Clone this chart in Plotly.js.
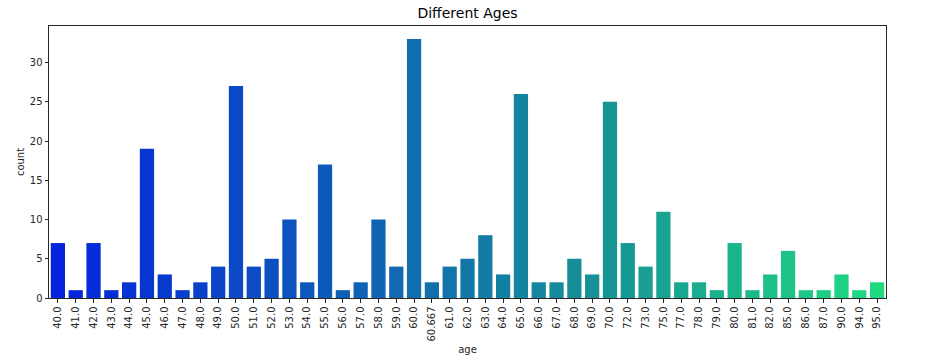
<!DOCTYPE html>
<html>
<head>
<meta charset="utf-8">
<script src="https://cdn.plot.ly/plotly-3.0.1.min.js"></script>
<style>html,body{margin:0;padding:0;background:#fff;}#chart{width:931px;height:364px;}</style>
</head>
<body>
<div id="chart"></div>
<script>
const ageLabels = ["40.0","41.0","42.0","43.0","44.0","45.0","46.0","47.0","48.0","49.0",
  "50.0","51.0","52.0","53.0","54.0","55.0","56.0","57.0","58.0","59.0",
  "60.0","60.667","61.0","62.0","63.0","64.0","65.0","66.0","67.0","68.0","69.0",
  "70.0","72.0","73.0","75.0","77.0","78.0","79.0","80.0","81.0","82.0",
  "85.0","86.0","87.0","90.0","94.0","95.0"];
const counts = [7,1,7,1,2,19,3,1,2,4,
  27,4,5,10,2,17,1,2,10,4,
  33,2,4,5,8,3,26,2,2,5,3,
  25,7,4,11,2,2,1,7,1,3,
  6,1,1,3,1,2];
const yTicks = [0,5,10,15,20,25,30];

// "winter"-style palette, muted
function hue2rgb(p,q,t){ if(t<0)t+=1; if(t>1)t-=1; if(t<1/6)return p+(q-p)*6*t; if(t<1/2)return q; if(t<2/3)return p+(q-p)*(2/3-t)*6; return p; }
function winterColor(x){
  let r=0, g=x, b=1-0.5*x;
  const mx=Math.max(r,g,b), mn=Math.min(r,g,b);
  const l=(mx+mn)/2; let s, h;
  const d=mx-mn;
  s = l<=0.5 ? d/(mx+mn) : d/(2-mx-mn);
  if(mx===g) h=((b-r)/d+2)/6; else h=((r-g)/d+4)/6;
  s*=0.75;
  const q = l<0.5 ? l*(1+s) : l+s-l*s;
  const p = 2*l-q;
  const G=hue2rgb(p,q,h), B=hue2rgb(p,q,h-1/3);
  const R = 4 + 28*x;
  return 'rgb('+Math.round(R)+','+Math.round(G*255)+','+Math.round(B*255)+')';
}
const n = ageLabels.length;
const colors = ageLabels.map((_,i)=>winterColor((i+1)/(n+1)));

const font = {family:'DejaVu Sans, sans-serif', size:10, color:'#262626'};
const trace = {type:'bar', x:ageLabels, y:counts, marker:{color:colors, line:{width:0}}, hoverinfo:'x+y'};
const layout = {
  width:931, height:364,
  margin:{l:49, r:45, t:26, b:66, pad:0},
  paper_bgcolor:'#fff', plot_bgcolor:'#fff',
  bargap:0.2,
  showlegend:false,
  font:font,
  title:{text:'Different Ages', font:{family:'DejaVu Sans, sans-serif', size:14, color:'#000'}, x:0.5, xref:'paper', xanchor:'center', y:1, yref:'container', yanchor:'top', pad:{t:8}},
  xaxis:{type:'category', range:[-0.5, n-0.5], tickangle:-90, ticks:'outside', ticklen:3.5, tickwidth:1, tickcolor:'#262626',
    showline:true, linecolor:'#262626', linewidth:1, mirror:true, showgrid:false, zeroline:false,
    tickfont:{family:'DejaVu Sans, sans-serif', size:10, color:'#262626'},
    title:{text:'age', font:{family:'DejaVu Sans, sans-serif', size:10, color:'#262626'}, standoff:5}},
  yaxis:{range:[0, 34.65], tickvals:yTicks, ticktext:yTicks.map(String), ticks:'outside', ticklen:3.5, tickwidth:1, tickcolor:'#262626',
    showline:true, linecolor:'#262626', linewidth:1, mirror:true, showgrid:false, zeroline:false,
    tickfont:{family:'DejaVu Sans, sans-serif', size:10, color:'#262626'},
    title:{text:'count', font:{family:'DejaVu Sans, sans-serif', size:10, color:'#262626'}, standoff:3}}
};
Plotly.newPlot('chart', [trace], layout, {displayModeBar:false, staticPlot:true});
</script>
</body>
</html>
